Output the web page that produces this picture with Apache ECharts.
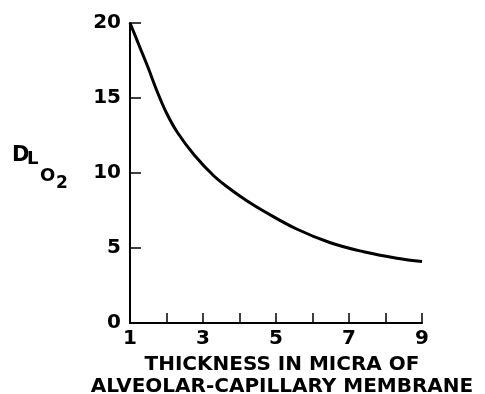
<!DOCTYPE html>
<html>
<head>
<meta charset="utf-8">
<script src="https://cdn.jsdelivr.net/npm/echarts@6/dist/echarts.min.js"></script>
<style>
  html, body { margin: 0; padding: 0; background: #fff; }
  #chart { width: 485px; height: 394px; }
</style>
</head>
<body>
<div id="chart"></div>
<script>
  // thickness (micra) and DL O2
  var thickness = [1, 1.25, 1.5, 1.75, 2.0, 2.3, 2.76, 3.3, 3.76, 4.2, 4.67, 5.58, 6.49, 7.4, 8.31, 9]
  var dlo2 = [20, 18.5, 17.0, 15.4, 14.0, 12.7, 11.2, 9.8, 8.9, 8.15, 7.45, 6.25, 5.35, 4.75, 4.32, 4.1]
  var xTicks = { min: 1, max: 9, step: 1 }
  var yTicks = { min: 0, max: 20, step: 5 }

  var points = thickness.map(function (x, i) { return [x, dlo2[i]] })

  var font = 'DejaVu Sans'
  var chart = echarts.init(document.getElementById('chart'), null, { renderer: 'canvas' })
  chart.setOption({
    animation: false,
    backgroundColor: '#fff',
    grid: { left: 130, right: 63, top: 23, bottom: 71, containLabel: false, outerBoundsMode: 'none' },
    xAxis: {
      type: 'value',
      min: xTicks.min,
      max: xTicks.max,
      interval: xTicks.step,
      name: 'THICKNESS IN MICRA OF\nALVEOLAR-CAPILLARY MEMBRANE',
      nameLocation: 'middle',
      nameGap: 28,
      nameTextStyle: { color: '#000', fontFamily: font, fontWeight: 'bold', fontSize: 20, lineHeight: 22, align: 'center', padding: [0, 0, 0, 12] },
      axisLine: { lineStyle: { color: '#000', width: 2 } },
      axisTick: { inside: true, length: 10, lineStyle: { color: '#000', width: 1.5 } },
      axisLabel: {
        margin: 6,
        color: '#000',
        fontFamily: font,
        fontWeight: 'bold',
        fontSize: 20,
        formatter: function (v) { return v % 2 === 1 ? String(v) : '' }
      },
      splitLine: { show: false }
    },
    yAxis: {
      type: 'value',
      min: yTicks.min,
      max: yTicks.max,
      interval: yTicks.step,
      axisLine: { show: true, lineStyle: { color: '#000', width: 2 } },
      axisTick: { show: true, inside: true, length: 11, lineStyle: { color: '#000', width: 1.5 } },
      axisLabel: { margin: 9, color: '#000', fontFamily: font, fontWeight: 'bold', fontSize: 20 },
      splitLine: { show: false }
    },
    graphic: [
      { type: 'text', left: 12, top: 145, style: { text: 'D', font: 'bold 21px "DejaVu Sans"', fill: '#000' } },
      { type: 'text', left: 27, top: 150, style: { text: 'L', font: 'bold 18px "DejaVu Sans"', fill: '#000' } },
      { type: 'text', left: 40, top: 167, style: { text: 'O', font: 'bold 18px "DejaVu Sans"', fill: '#000' } },
      { type: 'text', left: 56, top: 175, style: { text: '2', font: 'bold 17px "DejaVu Sans"', fill: '#000' } }
    ],
    series: [{
      type: 'line',
      data: points,
      smooth: 0.4,
      showSymbol: false,
      lineStyle: { color: '#000', width: 3 }
    }]
  })
</script>
</body>
</html>
